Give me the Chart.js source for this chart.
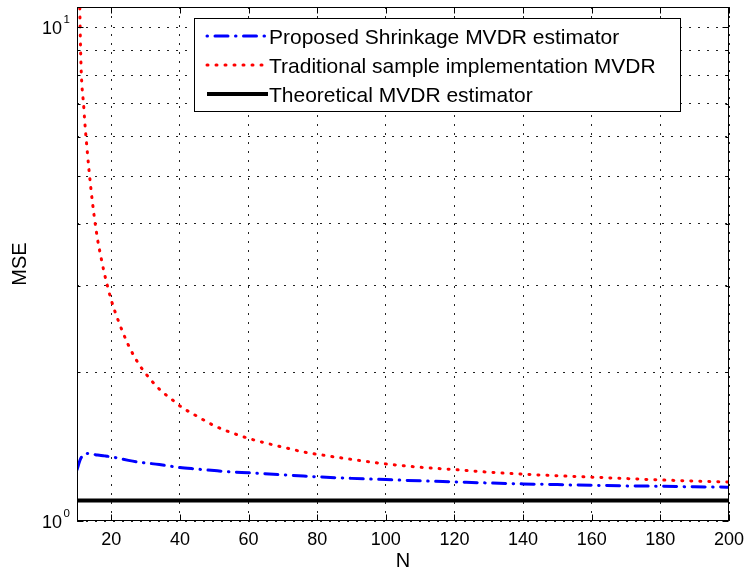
<!DOCTYPE html>
<html>
<head>
<meta charset="utf-8">
<script src="https://cdn.jsdelivr.net/npm/chart.js@4.4.1/dist/chart.umd.min.js"></script>
<style>
html,body{margin:0;padding:0;background:#fff;}
#wrap{width:745px;height:573px;}
</style>
</head>
<body>
<div id="wrap"><canvas id="c" width="745" height="573"></canvas></div>
<script>
// ---- data ----
const nValues = [10,11,12,13,14,15,16,17,18,19,20,22,25,28,30,34,38,40,45,50,55,60,66,71,76,81,90,100,110,120,130,140,150,160,170,180,190,200];
const shrinkageMSE = [1.27,1.335,1.363,1.37,1.368,1.364,1.36,1.358,1.355,1.352,1.35,1.34,1.327,1.316,1.311,1.301,1.289,1.283,1.274,1.265,1.257,1.252,1.245,1.239,1.233,1.228,1.22,1.213,1.206,1.2,1.194,1.189,1.185,1.181,1.178,1.176,1.173,1.171];
const sampleMSE = [30,9.3,6.85,5.6,4.75,4.15,3.72,3.42,3.17,2.97,2.8,2.55,2.27,2.08,1.99,1.85,1.755,1.71,1.63,1.56,1.51,1.47,1.433,1.406,1.38,1.362,1.333,1.305,1.285,1.271,1.256,1.244,1.235,1.227,1.219,1.211,1.205,1.199];
const theoreticalN = [10,200];
const theoreticalMSE = [1.1,1.1];
const seriesLabels = ['Proposed Shrinkage MVDR estimator','Traditional sample implementation MVDR','Theoretical MVDR estimator'];
const xTicks = [20,40,60,80,100,120,140,160,180,200];
const yTicks = [1,2,3,4,5,6,7,8,9,10];
const xTitle = 'N';
const yTitle = 'MSE';

const FONT = '"Liberation Sans", Arial, Helvetica, sans-serif';
const styles = [
  {color:'#0000ff', width:3, dash:[13,7.5,0.5,7.5], cap:'round', legendOffset:20.5},
  {color:'#ff0000', width:3, dash:[1,8], cap:'round', legendOffset:0},
  {color:'#000000', width:4, dash:[], cap:'butt', legendOffset:0}
];

const toXY = (xs, ys) => xs.map((x,i)=>({x:x, y:ys[i]}));

const framePlugin = {
  id:'frame',
  afterDatasetsDraw(chart){
    const ctx = chart.ctx;
    const a = chart.chartArea;
    const xs = chart.scales.x, ys = chart.scales.y;
    ctx.save();
    // frame
    ctx.strokeStyle = '#000';
    ctx.lineWidth = 1;
    ctx.setLineDash([]);
    const L = Math.round(a.left)+0.5, R = Math.round(a.right)-0.5, T = Math.round(a.top)+0.5, B = Math.round(a.bottom)-0.5;
    ctx.strokeRect(L, T, R-L, B-T);
    // inward tick marks
    ctx.beginPath();
    xTicks.forEach(v=>{
      const px = Math.round(xs.getPixelForValue(v))+0.5;
      ctx.moveTo(px, B); ctx.lineTo(px, B-6);
      ctx.moveTo(px, T); ctx.lineTo(px, T+6);
    });
    yTicks.forEach(v=>{
      const py = Math.round(ys.getPixelForValue(v))+0.5;
      const len = (Math.abs(Math.log10(v)-Math.round(Math.log10(v)))<1e-9) ? 6 : 3;
      ctx.moveTo(L, py); ctx.lineTo(L+len, py);
      ctx.moveTo(R, py); ctx.lineTo(R-len, py);
    });
    ctx.stroke();
    // y tick labels: 10^k
    ctx.fillStyle = '#000';
    yTicks.forEach(v=>{
      const k = Math.log10(v);
      if (Math.abs(k-Math.round(k))>1e-9) return;
      const py = ys.getPixelForValue(v);
      ctx.font = '18px ' + FONT;
      ctx.textAlign = 'right';
      ctx.textBaseline = 'alphabetic';
      ctx.fillText('10', 62, py+7);
      ctx.font = '11.5px ' + FONT;
      ctx.textAlign = 'left';
      ctx.fillText(String(Math.round(k)), 63.5, py-4.5);
    });
    // legend
    const bx = 194.5, by = 18.5, bw = 486, bh = 93;
    ctx.fillStyle = '#fff';
    ctx.fillRect(bx, by, bw, bh);
    ctx.strokeStyle = '#000';
    ctx.lineWidth = 1;
    ctx.strokeRect(bx, by, bw, bh);
    const rowY = [36, 65, 94];
    chart.data.datasets.forEach((ds,i)=>{
      const s = styles[i];
      ctx.save();
      ctx.strokeStyle = s.color;
      ctx.lineWidth = s.width;
      ctx.lineCap = s.cap;
      ctx.setLineDash(s.dash);
      ctx.lineDashOffset = s.legendOffset;
      ctx.beginPath();
      ctx.moveTo(207, rowY[i]);
      ctx.lineTo(i===2 ? 268 : 266, rowY[i]);
      ctx.stroke();
      ctx.restore();
      ctx.fillStyle = '#000';
      ctx.font = '21px ' + FONT;
      ctx.textAlign = 'left';
      ctx.textBaseline = 'alphabetic';
      ctx.fillText(ds.label, 269, rowY[i]+7.5);
    });
    ctx.restore();
  }
};

const gridCommon = {color:'#222', lineWidth:1, drawTicks:false, drawOnChartArea:true};

new Chart(document.getElementById('c').getContext('2d'), {
  type:'line',
  data:{
    datasets:[
      {label:seriesLabels[0], data:toXY(nValues, shrinkageMSE), borderColor:styles[0].color, borderWidth:styles[0].width, borderDash:styles[0].dash, borderCapStyle:styles[0].cap, pointRadius:0, cubicInterpolationMode:'monotone', fill:false},
      {label:seriesLabels[1], data:toXY(nValues, sampleMSE), borderColor:styles[1].color, borderWidth:styles[1].width, borderDash:styles[1].dash, borderCapStyle:styles[1].cap, pointRadius:0, cubicInterpolationMode:'monotone', fill:false},
      {label:seriesLabels[2], data:toXY(theoreticalN, theoreticalMSE), borderColor:styles[2].color, borderWidth:styles[2].width, borderDash:styles[2].dash, borderCapStyle:styles[2].cap, pointRadius:0, fill:false}
    ]
  },
  options:{
    responsive:false,
    animation:false,
    devicePixelRatio:1,
    layout:{padding:{top:7, right:16, left:0, bottom:0}},
    plugins:{legend:{display:false}, tooltip:{enabled:false}},
    scales:{
      x:{
        type:'linear', min:10, max:200,
        afterBuildTicks:s=>{ s.ticks = xTicks.map(v=>({value:v})); },
        afterFit:s=>{ s.height = 52; s.paddingLeft = 0; s.paddingRight = 0; },
        grid:gridCommon,
        border:{display:false, dash:[2,7]},
        ticks:{color:'#000', font:{family:FONT, size:18}, padding:8, maxRotation:0, autoSkip:false},
        title:{display:true, text:xTitle, color:'#000', font:{family:FONT, size:20}, padding:{top:0,bottom:0}}
      },
      y:{
        type:'logarithmic', min:1, max:11,
        afterBuildTicks:s=>{ s.ticks = yTicks.map(v=>({value:v})); },
        afterFit:s=>{ s.width = 77; s.paddingTop = 0; s.paddingBottom = 0; },
        grid:gridCommon,
        border:{display:false, dash:[2,7]},
        ticks:{display:false},
        title:{display:true, text:yTitle, color:'#000', font:{family:FONT, size:20}, padding:{top:8,bottom:0}}
      }
    }
  },
  plugins:[framePlugin]
});
</script>
</body>
</html>
